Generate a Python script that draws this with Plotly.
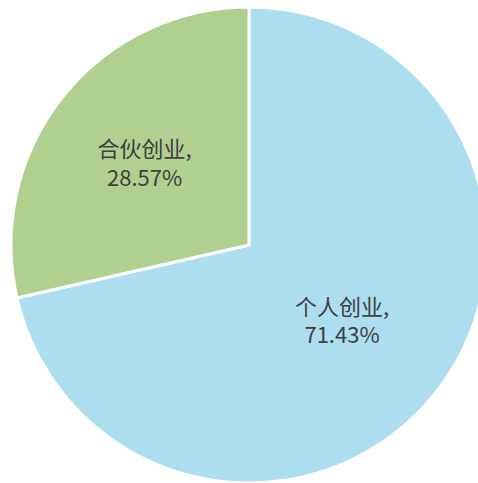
import plotly.graph_objects as go

labels = ["个人创业", "合伙创业"]
values = [71.43, 28.57]
colors = ["#ADDEF0", "#B0D08F"]

W, H = 490, 483
cx, cy, r = 249, 245, 238

fig = go.Figure(go.Pie(
    labels=labels,
    values=values,
    sort=False,
    direction="clockwise",
    rotation=0,
    marker=dict(colors=colors, line=dict(color="white", width=3)),
    texttemplate="%{label},<br>%{value:.2f}%",
    textposition="inside",
    insidetextorientation="horizontal",
    textfont=dict(family="Noto Sans CJK SC", size=22, color="#404040"),
    hoverinfo="skip",
    showlegend=False,
    domain=dict(x=[(cx - r) / W, (cx + r) / W],
                y=[(H - cy - r) / H if H - cy - r > 0 else 0, (H - cy + r) / H]),
))

fig.update_layout(
    width=W, height=H,
    margin=dict(l=0, r=0, t=0, b=0),
    paper_bgcolor="white",
    plot_bgcolor="white",
)

fig.write_html("out.html", config={"displayModeBar": False},
               post_script="document.body.style.overflow='hidden';document.body.style.margin='0';")
